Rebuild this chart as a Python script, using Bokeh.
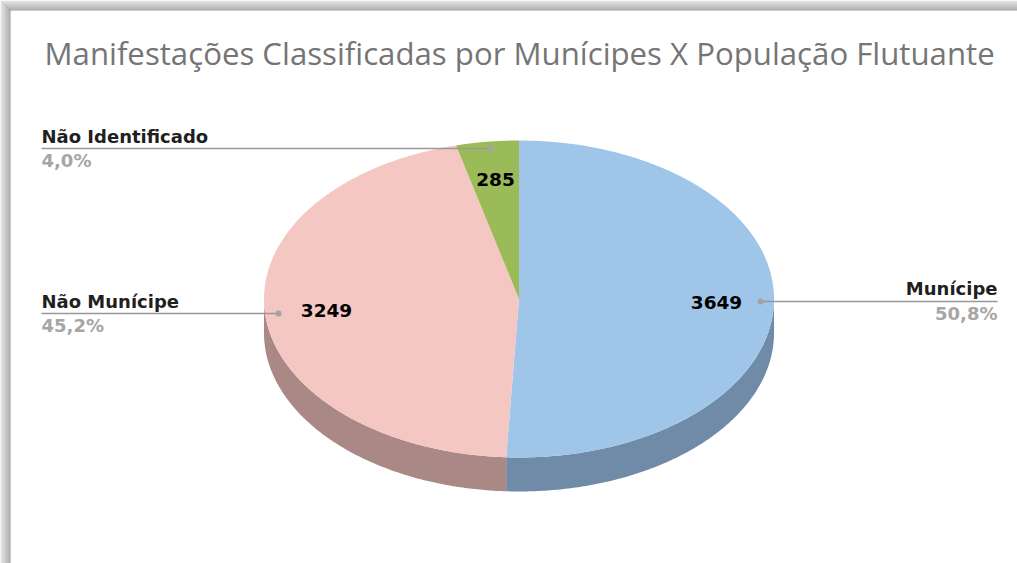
import numpy as np
from bokeh.plotting import figure
from bokeh.models import Range1d
from bokeh.core.properties import value
from bokeh.embed import file_html
from bokeh.resources import INLINE

title = "Manifestações Classificadas por Munícipes X População Flutuante"
categories = ["Munícipe", "Não Munícipe", "Não Identificado"]
values = [3649, 3249, 285]
percent_labels = ["50,8%", "45,2%", "4,0%"]
top_colors = ["#9fc5e8", "#f4c7c3", "#9bbb59"]
side_colors = ["#6f8ba8", "#a98885", "#6a8040"]
shadow_colors = ["#dedede", "#d6d6d6", "#cecece", "#c6c6c6", "#bebebe", "#b6b6b6", "#aeaeae", "#a6a6a6", "#9e9e9e", "#969696"]

W, H = 1017, 563
CX, CY, RX, RY, DEPTH = 518.5, 298.5, 255, 158.5, 34

p = figure(width=W, height=H, x_range=Range1d(0, W), y_range=Range1d(H, 0),
           output_backend="svg", toolbar_location=None, min_border=0,
           outline_line_color=None, background_fill_color="#ffffff")
p.axis.visible = False
p.grid.visible = False

# shadow of the pasted picture frame
n = np.arange(len(shadow_colors))
p.quad(left=n, right=n + 1, top=n, bottom=[H] * len(n), fill_color=shadow_colors, line_color=None)
p.quad(left=n, right=[W] * len(n), top=n, bottom=n + 1, fill_color=shadow_colors, line_color=None)

frac = np.cumsum([0] + values) / sum(values)
ang = frac * 2 * np.pi

def pt(t):
    return CX + RX * np.sin(t), CY - RY * np.cos(t)

# side wall: front half of the disc only (clockwise angle pi/2 .. 3pi/2)
for i in range(3):
    a0, a1 = max(ang[i], np.pi / 2), min(ang[i + 1], 3 * np.pi / 2)
    if a1 <= a0:
        continue
    t = np.linspace(a0, a1, 160)
    x, y = pt(t)
    p.patch(np.r_[x, x[::-1]], np.r_[y, y[::-1] + DEPTH], fill_color=side_colors[i], line_color=None)

for i in range(3):
    t = np.linspace(ang[i], ang[i + 1], 240)
    x, y = pt(t)
    p.patch(np.r_[CX, x], np.r_[CY, y], fill_color=top_colors[i], line_color=None)

# leaders: x of dot, far x, y
line_color = "#999999"
leaders = [(760, 997, 301), (278, 41, 313), (490, 41, 148)]
for x0, x1, y in leaders:
    p.line([x0, x1], [y, y], line_color=line_color, line_width=1.5)
p.scatter([l[0] for l in leaders], [l[2] for l in leaders], size=6, fill_color="#a3a3a3", line_color=None)

def txt(x, y, s, size, color, font, style="normal", align="left", base="middle"):
    p.text([x], [y], text=[s], text_font=value(font), text_font_size=size, text_font_style=style,
           text_color=color, text_align=align, text_baseline=base)

txt(44, 52.5, title, "31.2px", "#757575", "Open Sans")

anchors = [(997, 288, 313, "right"), (41, 301, 325, "left"), (41, 136, 160, "left")]
for (x, y1, y2, al), c, pc in zip(anchors, categories, percent_labels):
    txt(x, y1, c, "18px", "#1f1f1f", "DejaVu Sans", "bold", al)
    txt(x, y2, pc, "18px", "#a6a6a6", "DejaVu Sans", "bold", al)

centers = [(716, 301.5), (326, 310), (495, 179)]
for (x, y), v in zip(centers, values):
    txt(x, y, str(v), "18.5px", "#000000", "DejaVu Sans", "bold", "center", "middle")

open("out.html", "w").write(file_html(p, INLINE))
